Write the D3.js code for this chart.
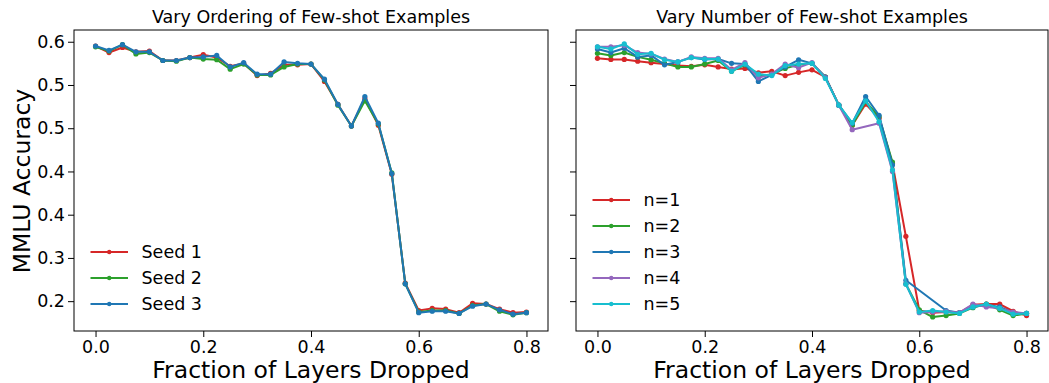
<!DOCTYPE html>
<html>
<head>
<meta charset="utf-8">
<script src="https://cdn.jsdelivr.net/npm/d3@7/dist/d3.min.js"></script>
<style>
  body { margin: 0; background: #fff; }
  svg { display: block; font-family: "DejaVu Sans", sans-serif; }
</style>
</head>
<body>
<svg id="chart"></svg>
<script>
// fraction of layers dropped, shared by every run
const fractions = [0, 0.025, 0.05, 0.075, 0.1, 0.125, 0.15, 0.175, 0.2, 0.225, 0.25,
    0.275, 0.3, 0.325, 0.35, 0.375, 0.4, 0.425, 0.45, 0.475, 0.5, 0.525, 0.55,
    0.575, 0.6, 0.625, 0.65, 0.675, 0.7, 0.725, 0.75, 0.775, 0.8];

// left panel: ordering seeds
const seedNames = ["Seed 1", "Seed 2", "Seed 3"];
const seed1 = [0.594, 0.585, 0.592, 0.586, 0.587, 0.574, 0.574, 0.578, 0.582, 0.578, 0.566,
    0.570, 0.553, 0.556, 0.568, 0.568, 0.569, 0.545, 0.513, 0.483, 0.521, 0.484, 0.416,
    0.265, 0.227, 0.230, 0.229, 0.224, 0.237, 0.236, 0.229, 0.224, 0.225];
const seed2 = [0.593, 0.587, 0.596, 0.583, 0.585, 0.574, 0.573, 0.578, 0.576, 0.575, 0.562,
    0.569, 0.554, 0.554, 0.565, 0.569, 0.569, 0.547, 0.512, 0.483, 0.518, 0.486, 0.418,
    0.264, 0.225, 0.227, 0.227, 0.223, 0.234, 0.236, 0.226, 0.221, 0.224];
const seed3 = [0.594, 0.588, 0.596, 0.586, 0.586, 0.574, 0.574, 0.578, 0.579, 0.581, 0.565,
    0.571, 0.555, 0.555, 0.572, 0.570, 0.569, 0.548, 0.513, 0.483, 0.524, 0.487, 0.417,
    0.264, 0.224, 0.226, 0.226, 0.223, 0.233, 0.236, 0.228, 0.222, 0.224];

// right panel: number of few-shot examples (null = no point)
const shotNames = ["n=1", "n=2", "n=3", "n=4", "n=5"];
const shot1 = [0.577, 0.5755, 0.5755, 0.573, 0.571, 0.569, 0.567, 0.566, 0.568, 0.565, 0.562,
    0.563, 0.557, 0.559, 0.553, 0.5575, 0.561, 0.551, 0.512, 0.484, 0.5135, 0.494, 0.431,
    0.330, 0.227, 0.224, 0.225, 0.224, 0.235, 0.236, 0.236, 0.226, 0.220];
const shot2 = [0.584, 0.581, 0.585, 0.579, 0.575, 0.570, 0.565, 0.565, 0.569, 0.574, 0.559,
    0.568, 0.552, 0.555, 0.563, 0.568, 0.570, 0.551, 0.512, 0.484, 0.517, 0.496, 0.433,
    0.264, 0.228, 0.218, 0.220, 0.223, 0.231, 0.236, 0.228, 0.220, 0.223];
const shot3 = [0.590, 0.585, 0.591, 0.579, 0.581, 0.568, 0.572, 0.578, 0.5755, 0.576, 0.570,
    0.569, 0.545, 0.554, 0.565, 0.575, 0.570, 0.551, 0.512, 0.487, 0.524, 0.498, 0.429,
    0.269, null, null, 0.227, 0.224, 0.232, 0.235, 0.232, 0.224, 0.223];
const shot4 = [0.593, 0.593, 0.595, 0.585, 0.583, 0.576, 0.572, 0.579, 0.577, 0.577, 0.561,
    0.571, 0.550, 0.555, 0.569, 0.564, 0.571, 0.550, 0.512, 0.478, null, 0.487, 0.420,
    0.264, 0.224, 0.225, 0.226, 0.224, 0.236, 0.232, 0.230, 0.225, 0.223];
const shot5 = [0.593, 0.590, 0.597, 0.5825, 0.584, 0.575, 0.572, 0.578, 0.576, 0.576, 0.559,
    0.569, 0.555, 0.553, 0.567, 0.569, 0.570, 0.549, 0.512, 0.4875, 0.518, 0.489, 0.422,
    0.2635, 0.225, 0.227, 0.225, 0.223, 0.232, 0.236, 0.230, 0.222, 0.223];

const xTicks = [0, 0.2, 0.4, 0.6, 0.8];
const yTicks = [0.6, 0.54, 0.48, 0.42, 0.36, 0.30, 0.24];
const yTickLabels = ["0.6", "0.5", "0.5", "0.4", "0.4", "0.3", "0.2"];

const titles = ["Vary Ordering of Few-shot Examples", "Vary Number of Few-shot Examples"];
const xLabel = "Fraction of Layers Dropped";
const yLabel = "MMLU Accuracy";

const tab10 = {
    red: "#d62728", green: "#2ca02c", blue: "#1f77b4", purple: "#9467bd", cyan: "#17becf"
};

class LinePanel {
    constructor(root, series, left, right, opts = {}) {
        this.root = root;
        this.series = series;
        this.left = left;
        this.right = right;
        this.top = 30;
        this.bottom = 331;
        this.opts = opts;
    }

    initialize() {
        this.container = this.root.append("g");

        this.x = d3.scaleLinear().domain([-0.04, 0.84]).range([this.left, this.right]);
        this.y = d3.scaleLinear().domain([0.1986, 0.6163]).range([this.bottom, this.top]);

        this.xAxisGroup = this.container.append("g")
            .attr("transform", `translate(0, ${this.bottom})`);
        this.yAxisGroup = this.container.append("g")
            .attr("transform", `translate(${this.left}, 0)`);
    }

    update() {
        const x = this.x, y = this.y;

        this.xAxisGroup.call(d3.axisBottom(x)
            .tickValues(xTicks)
            .tickFormat(d3.format(".1f"))
            .tickSize(6).tickSizeOuter(0).tickPadding(4));

        this.yAxisGroup.call(d3.axisLeft(y)
            .tickValues(yTicks)
            .tickFormat((d, i) => this.opts.showYLabels ? yTickLabels[i] : "")
            .tickSize(6).tickSizeOuter(0).tickPadding(3));

        [this.xAxisGroup, this.yAxisGroup].forEach(g => {
            g.select(".domain").remove();
            g.selectAll(".tick line").attr("stroke", "#000").attr("stroke-width", 1);
            g.selectAll(".tick text")
                .attr("fill", "#000")
                .style("font-size", "17.5px")
                .style("font-family", "DejaVu Sans");
        });

        // frame
        this.container.append("rect")
            .attr("x", this.left).attr("y", this.top)
            .attr("width", this.right - this.left)
            .attr("height", this.bottom - this.top)
            .attr("fill", "none")
            .attr("stroke", "#000")
            .attr("stroke-width", 1);

        const line = d3.line()
            .x(d => x(d.x))
            .y(d => y(d.y));

        this.series.forEach(s => {
            const pts = fractions
                .map((f, i) => ({x: f, y: s.values[i]}))
                .filter(d => d.y !== null);

            const g = this.container.append("g");
            g.append("path")
                .datum(pts)
                .attr("d", line)
                .attr("fill", "none")
                .attr("stroke", s.color)
                .attr("stroke-width", 2)
                .attr("stroke-linejoin", "round");

            g.selectAll("circle")
                .data(pts)
                .join("circle")
                .attr("cx", d => x(d.x))
                .attr("cy", d => y(d.y))
                .attr("r", 2.6)
                .attr("fill", s.color);
        });

        // titles and labels
        const cx = (this.left + this.right) / 2;
        this.container.append("text")
            .attr("x", cx).attr("y", 23)
            .attr("text-anchor", "middle")
            .style("font-size", "17.5px")
            .text(this.opts.title);

        this.container.append("text")
            .attr("x", cx).attr("y", 378)
            .attr("text-anchor", "middle")
            .style("font-size", "23.5px")
            .text(xLabel);

        this.drawLegend();
    }

    drawLegend() {
        const lg = this.container.append("g")
            .attr("transform", `translate(${this.left + 16.5}, ${this.bottom - 27 - (this.series.length - 1) * 26})`);

        this.series.forEach((s, i) => {
            const row = lg.append("g").attr("transform", `translate(0, ${i * 26})`);
            row.append("line")
                .attr("x1", 0).attr("x2", 37.5)
                .attr("stroke", s.color).attr("stroke-width", 2);
            row.append("circle")
                .attr("cx", 18.75).attr("r", 2.2).attr("fill", s.color);
            row.append("text")
                .attr("x", 51)
                .attr("dy", "0.35em")
                .style("font-size", "17.5px")
                .text(s.name);
        });
    }
}

const svg = d3.select("#chart").attr("width", 1049).attr("height", 383);

const left = new LinePanel(svg, [
    {name: seedNames[0], values: seed1, color: tab10.red},
    {name: seedNames[1], values: seed2, color: tab10.green},
    {name: seedNames[2], values: seed3, color: tab10.blue}
], 74, 548, {title: titles[0], showYLabels: true});
left.initialize();
left.update();

const right = new LinePanel(svg, [
    {name: shotNames[0], values: shot1, color: tab10.red},
    {name: shotNames[1], values: shot2, color: tab10.green},
    {name: shotNames[2], values: shot3, color: tab10.blue},
    {name: shotNames[3], values: shot4, color: tab10.purple},
    {name: shotNames[4], values: shot5, color: tab10.cyan}
], 576, 1048, {title: titles[1], showYLabels: false});
right.initialize();
right.update();

svg.append("text")
    .attr("transform", "translate(30, 181) rotate(-90)")
    .attr("text-anchor", "middle")
    .style("font-size", "23.5px")
    .text(yLabel);
</script>
</body>
</html>
